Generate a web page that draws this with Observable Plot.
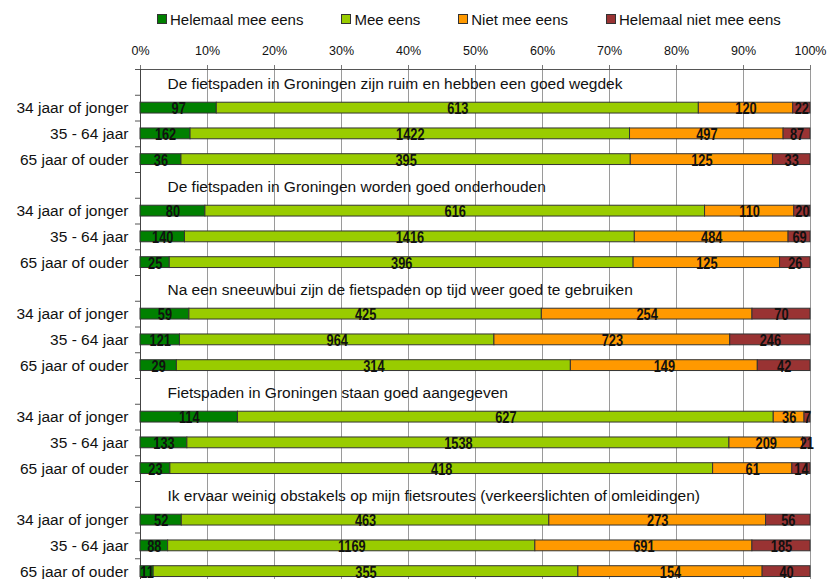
<!DOCTYPE html>
<html>
<head>
<meta charset="utf-8">
<script src="https://cdn.jsdelivr.net/npm/d3@7"></script>
<script src="https://cdn.jsdelivr.net/npm/@observablehq/plot@0.6"></script>
<style>
  html, body { margin: 0; padding: 0; background: #fff; overflow: hidden; }
  body { width: 828px; height: 579px; font-family: "Liberation Sans", Arial, sans-serif; }
  #legend { height: 36px; display: flex; align-items: center; padding-left: 157px; gap: 38px; font-size: 15px; color: #111; box-sizing: border-box; padding-top: 2px; }
  .item { display: flex; align-items: center; }
  .sw { width: 8px; height: 8px; border: 1px solid #333; margin-right: 3px; }
  svg { display: block; }
</style>
</head>
<body>
<div id="legend"></div>
<div id="chart"></div>
<script>
const categories = ["Helemaal mee eens", "Mee eens", "Niet mee eens", "Helemaal niet mee eens"];
const colors = ["#008000", "#99CC00", "#FF9900", "#993333"];
const questions = [
  "De fietspaden in Groningen zijn ruim en hebben een goed wegdek",
  "De fietspaden in Groningen worden goed onderhouden",
  "Na een sneeuwbui zijn de fietspaden op tijd weer goed te gebruiken",
  "Fietspaden in Groningen staan goed aangegeven",
  "Ik ervaar weinig obstakels op mijn fietsroutes (verkeerslichten of omleidingen)"
];
const ages = ["34 jaar of jonger", "35 - 64 jaar", "65 jaar of ouder"];
const q1 = [[97, 613, 120, 22], [162, 1422, 497, 87], [36, 395, 125, 33]];
const q2 = [[80, 616, 110, 20], [140, 1416, 484, 69], [25, 396, 125, 26]];
const q3 = [[59, 425, 254, 70], [121, 964, 723, 246], [29, 314, 149, 42]];
const q4 = [[114, 627, 36, 7], [133, 1538, 209, 21], [23, 418, 61, 14]];
const q5 = [[52, 463, 273, 56], [88, 1169, 691, 185], [11, 355, 154, 40]];
const tickValues = d3.range(0, 1.0001, 0.1);

const counts = [q1, q2, q3, q4, q5];
const data = [];
const ageRows = [];
counts.forEach((q, qi) => {
  q.forEach((vals, ai) => {
    const row = qi * 4 + 1 + ai;
    ageRows.push({row, age: ages[ai]});
    vals.forEach((v, ci) => data.push({row, cat: categories[ci], value: v}));
  });
});
const titleRows = questions.map((t, i) => ({row: i * 4, text: t}));

// legend
const lg = document.getElementById("legend");
categories.forEach((c, i) => {
  const it = document.createElement("div");
  it.className = "item";
  it.innerHTML = `<span class="sw" style="background:${colors[i]}"></span><span>${c}</span>`;
  lg.appendChild(it);
});

const chart = Plot.plot({
  width: 828,
  height: 554,
  marginTop: 33,
  marginBottom: 6,
  marginLeft: 140,
  marginRight: 18,
  style: {fontFamily: "Liberation Sans, Arial, sans-serif", color: "#111", background: "#fff"},
  x: {domain: [0, 1], axis: null, label: null},
  y: {domain: [0, 20], reverse: true, axis: null, label: null},
  color: {domain: categories, range: colors},
  marks: [
    Plot.gridX(tickValues, {stroke: "#9a9a9a", strokeOpacity: 1, strokeWidth: 1}),
    Plot.axisX(tickValues, {anchor: "top", label: null, tickSize: 5, tickPadding: 10, tickFormat: d3.format(".0%"), fontSize: 12.5, stroke: "#777"}),
    Plot.axisY(d3.range(0, 21), {anchor: "left", label: null, tickSize: 5, tickFormat: () => "", stroke: "#555"}),
    Plot.ruleY([0], {stroke: "#555"}),
    Plot.ruleX([0], {stroke: "#444"}),
    Plot.rect(data, Plot.stackX({
      x: "value",
      y1: d => d.row + 0.29,
      y2: d => d.row + 0.71,
      offset: "normalize",
      fill: "cat",
      stroke: "#333",
      strokeWidth: 1
    })),
    Plot.text(data, Plot.stackX({
      x: "value",
      y: d => d.row + 0.5,
      offset: "normalize",
      z: "cat",
      text: d => String(d.value),
      className: "numlabel",
      fontFamily: "Liberation Sans, Arial, sans-serif",
      fontWeight: "bold",
      fontSize: 16,
      fill: "#111",
      dy: 1
    })),
    Plot.text(titleRows, {x: 0, y: d => d.row + 0.5, text: "text", textAnchor: "start", dx: 27, dy: 2, fontSize: 15.5, fill: "#111"}),
    Plot.text(ageRows, {x: 0, y: d => d.row + 0.5, text: "age", textAnchor: "end", dx: -12, fontSize: 15.5, fill: "#111"})
  ]
});
// condense the numeric labels horizontally (narrow font look)
chart.querySelectorAll(".numlabel text").forEach(t => {
  const tr = t.getAttribute("transform") || "";
  t.setAttribute("transform", tr + " scale(0.8,1)");
});
document.getElementById("chart").appendChild(chart);
</script>
</body>
</html>
